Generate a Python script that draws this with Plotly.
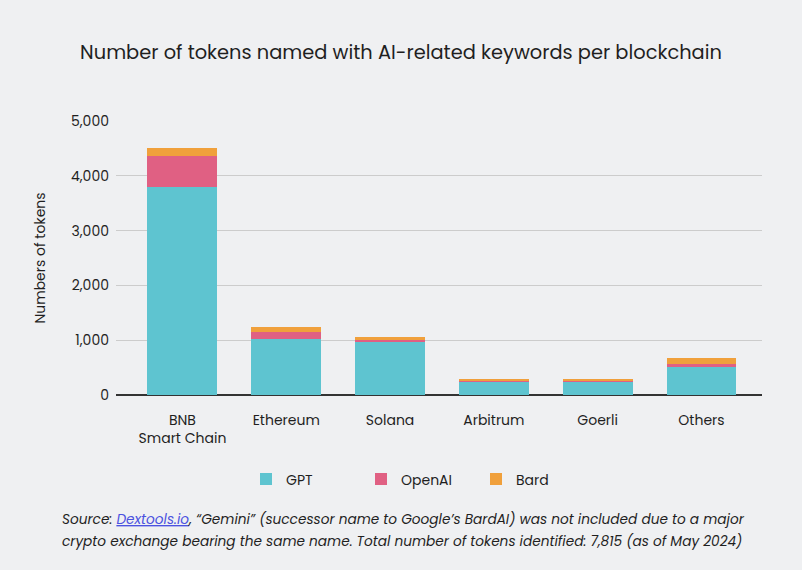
import plotly.graph_objects as go

categories = ["BNB<br>Smart Chain", "Ethereum", "Solana", "Arbitrum", "Goerli", "Others"]
gpt = [3800, 1030, 975, 250, 250, 515]
openai = [570, 120, 35, 20, 20, 55]
bard = [130, 90, 50, 20, 20, 110]
y_ticks = [0, 1000, 2000, 3000, 4000, 5000]
y_tick_labels = ["0", "1,000", "2,000", "3,000", "4,000", "5,000"]

FONT = "Poppins, Inter, Lato, sans-serif"
BG = "#eff0f2"
TXT = "#1f1f1f"

fig = go.Figure()
for name, vals, col in [("GPT", gpt, "#5ec4d0"), ("OpenAI", openai, "#e06083"), ("Bard", bard, "#f0a03c")]:
    fig.add_trace(go.Bar(x=list(range(len(categories))), y=vals, name=name,
                         marker=dict(color=col, line=dict(width=0)), width=0.674))

fig.update_layout(
    barmode="stack",
    width=802, height=570,
    paper_bgcolor=BG, plot_bgcolor=BG,
    font=dict(family=FONT, color=TXT, size=14),
    margin=dict(l=116, r=40, t=121, b=175),
    title=dict(text="Number of tokens named with AI-related keywords per blockchain",
               x=0.5, xanchor="center", y=1 - 52 / 570, yanchor="middle",
               font=dict(size=19.4, family=FONT, color=TXT)),
    xaxis=dict(tickmode="array", tickvals=list(range(len(categories))), ticktext=categories,
               range=[-0.64, 5.583], showgrid=False, zeroline=False,
               showline=False, ticks="", tickfont=dict(size=14), ticklabelstandoff=15),
    yaxis=dict(range=[0, 5000], tickvals=y_ticks, ticktext=y_tick_labels,
               showgrid=True, gridcolor="#cccccc", gridwidth=1,
               zeroline=True, zerolinecolor="#333333", zerolinewidth=2,
               showline=False, ticks="", tickfont=dict(size=14), ticklabelstandoff=6,
               title=dict(text="Numbers of tokens", font=dict(size=14), standoff=22)),
    legend=dict(orientation="h", x=(246 - 116) / 646, xanchor="left", y=-0.25, yanchor="top",
                font=dict(size=14), bgcolor="rgba(0,0,0,0)", traceorder="normal",
                entrywidth=70),
    bargap=0.3,
)

line1 = ("<i>Source: <span style='color:#4b52e0'><u>Dextools.io</u></span>, “Gemini” (successor name to "
         "Google’s BardAI) was not included due to a major</i>")
line2 = "<i>crypto exchange bearing the same name. Total number of tokens identified: 7,815 (as of May 2024)</i>"
for txt, ypx in [(line1, 519), (line2, 541)]:
    fig.add_annotation(
        xref="paper", yref="paper", x=(60 - 116) / 646, y=(570 - 175 - ypx) / 274,
        xanchor="left", yanchor="middle", align="left", showarrow=False,
        text=txt, font=dict(size=13.7, family=FONT, color=TXT),
    )

fig.write_html("out.html", config={"displayModeBar": False},
               post_script="document.body.style.margin='0';")
